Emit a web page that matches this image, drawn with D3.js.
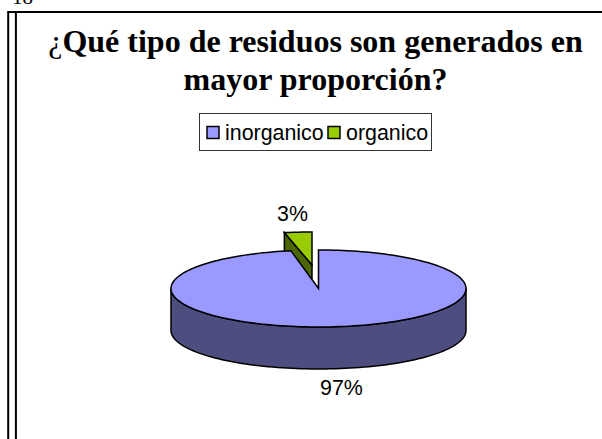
<!DOCTYPE html>
<html lang="es">
<head>
<meta charset="utf-8">
<title>Residuos</title>
<script src="https://d3js.org/d3.v7.min.js"></script>
<style>
  html, body { margin: 0; padding: 0; background: #fff; overflow: hidden; }
  svg { display: block; }
  .titulo { font: bold 32px "Liberation Serif", serif; text-anchor: middle; fill: #000; }
  .rotulo { font: 21.4px "Liberation Sans", sans-serif; fill: #000; }
</style>
</head>
<body>
<div id="chart"></div>
<script>
// datos
var categorias = ["inorganico", "organico"];
var valores = [97, 3];
var etiquetas = ["97%", "3%"];
var titulo = ["Qué tipo de residuos son generados en", "mayor proporción?"];
var colores = ["#9999ff", "#99cc00"];
var coloresLado = ["#4d4d80", "#4d6600"];

var ancho = 602, alto = 439;
var svg = d3.select("#chart").append("svg").attr("width", ancho).attr("height", alto);

// numero de pagina, cortado arriba igual que el original
svg.append("text").attr("x", 12).attr("y", 4)
  .style("font", "21px 'Liberation Serif', serif").text("18");

// marco de la pagina
svg.append("path").attr("d", "M8.2,439V12H602M15.9,12V439").attr("fill", "none")
  .attr("stroke", "#000").attr("stroke-width", 2);

// titulo (el signo inicial no va en negrita)
svg.selectAll(".titulo").data(titulo).enter().append("text")
  .attr("class", "titulo")
  .attr("x", 315.5)
  .attr("y", function(d, i) { return 51.5 + i * 38; })
  .each(function(d, i) {
    if (i == 0) d3.select(this).append("tspan").style("font-weight", "normal").text("¿");
    d3.select(this).append("tspan").text(d);
  });

// leyenda
var leyenda = svg.append("g");
leyenda.append("rect").attr("x", 199.5).attr("y", 113.5).attr("width", 232).attr("height", 37)
  .attr("fill", "#fff").attr("stroke", "#333").attr("stroke-width", 1);
var xLeyenda = d3.scaleOrdinal().domain(categorias).range([207, 328]);
categorias.forEach(function(c, i) {
  leyenda.append("rect").attr("x", xLeyenda(c)).attr("y", 126.5).attr("width", 12).attr("height", 12)
    .attr("fill", colores[i]).attr("stroke", "#000").attr("stroke-width", 1.5);
  leyenda.append("text").attr("class", "rotulo").attr("x", xLeyenda(c) + 18).attr("y", 140).text(c);
});

// pastel 3d: angulos con d3.pie, el elipse sale de las escalas
var cx = 318.5, cy = 288.5, rx = 147.5, ry = 38.5, prof = 42;
var x = d3.scaleLinear().domain([-1, 1]).range([cx - rx, cx + rx]);
var y = d3.scaleLinear().domain([-1, 1]).range([cy - ry, cy + ry]);

var pie = d3.pie().sort(null).value(function(d) { return d; });
var sectores = pie(valores);
var linea = d3.line().x(function(p) { return p[0]; }).y(function(p) { return p[1]; });

function borde(a0, a1, esc, dx, dy, dz) {
  var n = Math.max(2, Math.ceil((a1 - a0) * 30));
  return d3.range(n + 1).map(function(i) {
    var a = a0 + (a1 - a0) * i / n;
    return [x(Math.sin(a)) + dx, y(-Math.cos(a) * esc) + dy + dz];
  });
}

var grande = sectores[0], chico = sectores[1];

// lado frontal del sector grande
var frente = borde(Math.PI / 2, 3 * Math.PI / 2, 1, 0, 0, 0);
var frenteAbajo = borde(Math.PI / 2, 3 * Math.PI / 2, 1, 0, 0, prof).reverse();
svg.append("path").attr("d", linea(frente.concat(frenteAbajo)) + "Z")
  .attr("fill", coloresLado[0]).attr("stroke", "#000").attr("stroke-width", 1.5);

// sector chico separado, va detras de la cara del grande
var sepX = -6.5, sepY = -23.5, escChico = 33 / ry;
var centro = [x(0) + sepX, y(0) + sepY];
var arcoChico = borde(chico.startAngle, chico.endAngle, escChico, sepX, sepY, 0);
var izq = arcoChico[0];
svg.append("path")
  .attr("d", linea([izq, centro, [centro[0], centro[1] + prof], [izq[0], izq[1] + prof]]) + "Z")
  .attr("fill", coloresLado[1]).attr("stroke", "#000").attr("stroke-width", 1.5);
svg.append("path")
  .attr("d", linea(arcoChico.concat([centro])) + "Z")
  .attr("fill", colores[1]).attr("stroke", "#000").attr("stroke-width", 1.5);

// cara superior del sector grande
var arcoGrande = borde(grande.startAngle, grande.endAngle, 1, 0, 0, 0);
svg.append("path")
  .attr("d", linea(arcoGrande.concat([[x(0), y(0)]])) + "Z")
  .attr("fill", colores[0]).attr("stroke", "#000").attr("stroke-width", 1.5);

// porcentajes
svg.append("text").attr("class", "rotulo").attr("x", 320).attr("y", 395).text(etiquetas[0]);
svg.append("text").attr("class", "rotulo").attr("x", 277).attr("y", 220.5).text(etiquetas[1]);
</script>
</body>
</html>
